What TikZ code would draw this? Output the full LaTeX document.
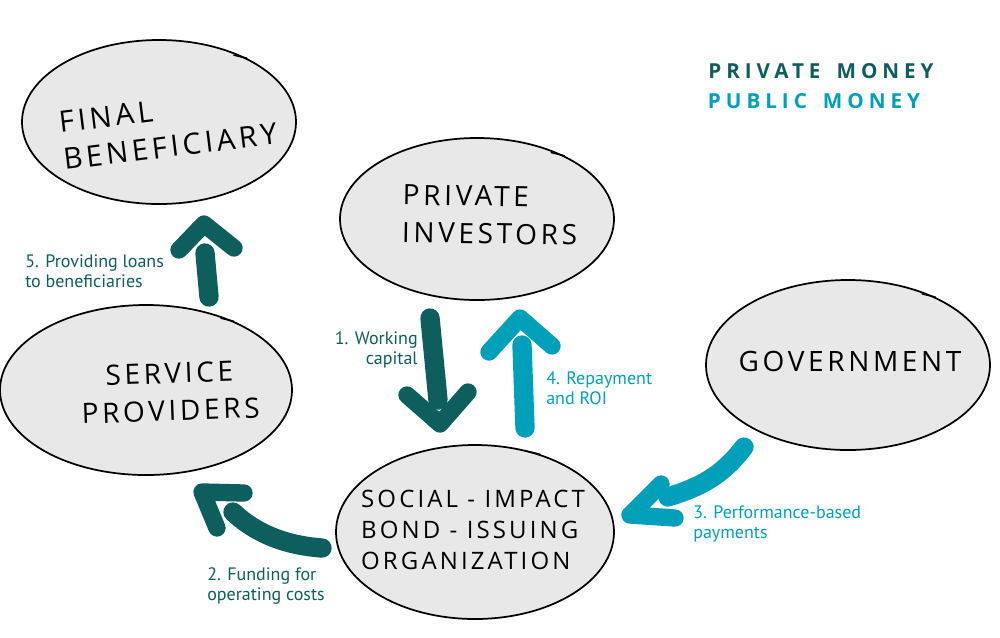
\documentclass[tikz,border=0pt]{standalone}
\usepackage{fontspec}
\setmainfont{PT Sans}
\newfontfamily\hand[LetterSpace=13]{Open Sans}
\newfontfamily\handwide[LetterSpace=24]{Open Sans}
\usetikzlibrary{shapes.geometric}
\definecolor{dark}{RGB}{14,94,94}
\definecolor{light}{RGB}{0,160,186}
\definecolor{bubblefill}{RGB}{232,232,232}
\begin{document}
\begin{tikzpicture}[x=0.75pt,y=-0.75pt,
 bubble/.style={ellipse, draw=black, line width=1.3pt, fill=bubblefill, inner sep=0pt},
 tick/.style={line width=1.1pt, line cap=round},
 hw/.style={font=\hand\fontsize{21}{28}\selectfont, align=left, inner sep=0pt},
 lbl/.style={font=\fontsize{13.5}{15}\selectfont, inner sep=0pt},
 leg/.style={font=\handwide\bfseries\fontsize{15.5}{20}\selectfont, inner sep=0pt},
 shaft/.style={line width=14.5pt, line cap=round},
 head/.style={line width=13pt, line cap=round, line join=round},
]
\useasboundingbox (0,0) rectangle (1000,637);
% bubbles
\node[bubble, minimum width=205.5pt, minimum height=123pt] (fb) at (159,122) {};
\node[bubble, minimum width=205.5pt, minimum height=121.5pt] (pi) at (477,219) {};
\node[bubble, minimum width=219pt, minimum height=127.5pt] (sp) at (146,390) {};
\node[bubble, minimum width=213pt, minimum height=127.5pt] (gov) at (848,365) {};
\node[bubble, minimum width=208.5pt, minimum height=130.5pt] (sib) at (475,532) {};
% hand-drawn overlap ticks
\draw[tick] (fb.36) -- ++(-13,-3);
\draw[tick] (pi.36) -- ++(-13,-3);
\draw[tick] (sp.38) -- ++(-13,-3);
\draw[tick] (gov.38) -- ++(-13,-3);
\draw[tick] (sib.50) -- ++(-13,-3);
% bubble texts
\node[hw, rotate=7, font=\hand\fontsize{22}{28}\selectfont] (tfb) at (168,128) {FINAL\\BENEFICIARY};
\node[hw, rotate=-1] (tpi) at (490,215) {PRIVATE\\INVESTORS};
\node[hw, rotate=2, align=center] (tsp) at (170,392) {SERVICE\\PROVIDERS};
\node[hw] (tgov) at (850,361) {GOVERNMENT};
\node[hw, font=\hand\fontsize{18}{23}\selectfont] (tsib) at (473,530) {SOCIAL - IMPACT\\BOND - ISSUING\\ORGANIZATION};
% legend
\node[leg, text=dark] (lp) at (821,71) {PRIVATE\hspace{12pt}MONEY};
\node[leg, text=light] (lq) at (814,101) {PUBLIC\hspace{12pt}MONEY};
% labels
\node[lbl, anchor=west, align=left, text=dark] (l5) at (25,271) {5. Providing loans\\to beneficiaries};
\node[lbl, anchor=east, align=right, text=dark] (l1) at (418,350) {1. Working\\capital};
\node[lbl, anchor=west, align=left, text=light] (l4) at (546,388) {4. Repayment\\and ROI};
\node[lbl, anchor=west, align=left, text=dark] (l2) at (207,586) {2. Funding for\\operating costs};
\node[lbl, anchor=west, align=left, text=light] (l3) at (693,524) {3. Performance-based\\payments};
% arrow coordinates
\coordinate (a1s) at (430,318); \coordinate (a1e) at (438,400);
\coordinate (a1l) at (407,395); \coordinate (a1t) at (440,424); \coordinate (a1r) at (468,392);
\coordinate (a4s) at (525,428); \coordinate (a4e) at (522,345);
\coordinate (a4l) at (489,352); \coordinate (a4t) at (520,318); \coordinate (a4r) at (552,346);
\coordinate (a5s) at (209,297); \coordinate (a5e) at (205,253);
\coordinate (a5l) at (179,250); \coordinate (a5t) at (204,224); \coordinate (a5r) at (234,248);
\coordinate (a2s) at (322,548); \coordinate (a2e) at (233,512);
\coordinate (a2u) at (244,493); \coordinate (a2t) at (202,492); \coordinate (a2d) at (217,528);
\coordinate (a3s) at (744,447); \coordinate (a3e) at (668,497);
\coordinate (a3u) at (661,484); \coordinate (a3t) at (630,515); \coordinate (a3d) at (675,518);
% arrows
\draw[shaft, dark] (a1s) -- (a1e);
\draw[head, dark] (a1l) -- (a1t) -- (a1r);
\draw[shaft, light] (a4s) -- (a4e);
\draw[head, light] (a4l) -- (a4t) -- (a4r);
\draw[shaft, dark] (a5s) -- (a5e);
\draw[head, dark] (a5l) -- (a5t) -- (a5r);
\draw[shaft, dark] (a2s) .. controls (280,545) and (252,530) .. (a2e);
\draw[head, dark] (a2u) -- (a2t) -- (a2d);
\draw[shaft, light] (a3s) .. controls (722,476) and (700,487) .. (a3e);
\draw[head, light] (a3u) -- (a3t) -- (a3d);
\end{tikzpicture}
\end{document}
